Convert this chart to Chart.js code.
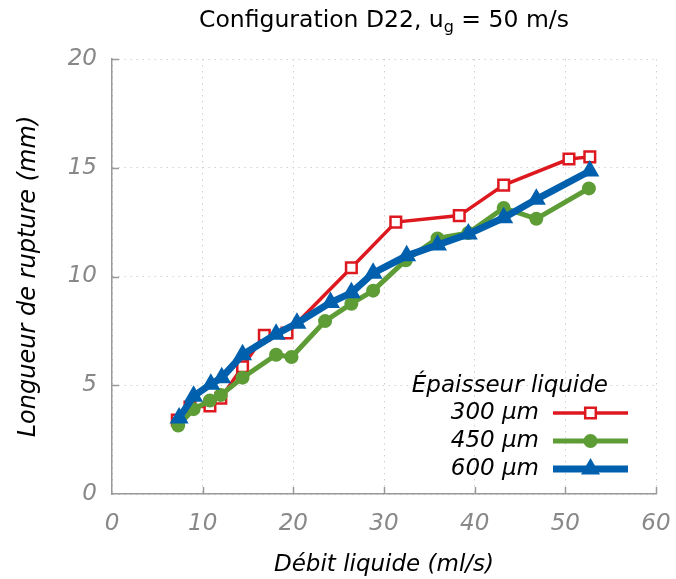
<!DOCTYPE html>
<html>
<head>
<meta charset="utf-8">
<script src="https://cdn.jsdelivr.net/npm/chart.js@4/dist/chart.umd.min.js"></script>
<style>
html,body{margin:0;padding:0;background:#fff;}
#wrap{width:676px;height:579px;position:relative;}
</style>
</head>
<body>
<div id="wrap"><canvas id="c" width="676" height="579"></canvas></div>
<script>
// ---- Data ----
const seriesNames = ["300 µm", "450 µm", "600 µm"];
const legendTitle = "Épaisseur liquide";
const chartTitleMain = "Configuration D22, u";
const chartTitleSub = "g";
const chartTitleEnd = " = 50 m/s";
const xAxisTitle = "Débit liquide (ml/s)";
const yAxisTitle = "Longueur de rupture (mm)";
const xTicks = [0, 10, 20, 30, 40, 50, 60];
const yTicks = [0, 5, 10, 15, 20];

const x300 = [7.2, 8.6, 10.8, 12.0, 14.4, 16.8, 19.3, 26.4, 31.3, 38.3, 43.2, 50.4, 52.7];
const y300 = [3.4, 4.0, 4.05, 4.4, 5.85, 7.3, 7.4, 10.4, 12.5, 12.8, 14.2, 15.4, 15.5];

const x450 = [7.3, 9.0, 10.8, 12.0, 14.4, 18.1, 19.8, 23.5, 26.4, 28.8, 32.4, 35.9, 39.3, 43.2, 46.8, 52.6];
const y450 = [3.15, 3.9, 4.3, 4.55, 5.35, 6.4, 6.3, 7.95, 8.75, 9.35, 10.75, 11.75, 12.0, 13.15, 12.65, 14.05];

const x600 = [7.4, 9.0, 10.9, 12.1, 14.4, 18.1, 20.4, 24.1, 26.4, 28.8, 32.5, 35.9, 39.3, 43.2, 46.8, 52.7];
const y600 = [3.5, 4.5, 5.05, 5.35, 6.4, 7.35, 7.85, 8.8, 9.25, 10.15, 10.95, 11.45, 11.95, 12.7, 13.55, 14.85];

const colors = ["#dd181f", "#5e9c36", "#0060ad"];

function pts(xs, ys){ return xs.map((x,i)=>({x:x, y:ys[i]})); }

const FONT = "'DejaVu Sans', sans-serif";
const FS = 23;

const datasets = [
  { label: seriesNames[0], data: pts(x300,y300), borderColor: colors[0], backgroundColor: "#ffffff",
    borderWidth: 3.5, pointStyle: 'rect', pointRadius: 7.5, pointBorderWidth: 2.5, pointBorderColor: colors[0],
    pointBackgroundColor: "#ffffff", order: 3 },
  { label: seriesNames[1], data: pts(x450,y450), borderColor: colors[1], backgroundColor: colors[1],
    borderWidth: 5, pointStyle: 'circle', pointRadius: 7, pointBorderWidth: 0,
    pointBackgroundColor: colors[1], order: 2 },
  { label: seriesNames[2], data: pts(x600,y600), borderColor: colors[2], backgroundColor: colors[2],
    borderWidth: 7, pointStyle: 'triangle', pointRadius: 11, pointBorderWidth: 0,
    pointBackgroundColor: colors[2], order: 1 }
];

const decor = {
  id: 'decor',
  afterDraw(chart){
    const ctx = chart.ctx, ca = chart.chartArea;
    const xs = chart.scales.x, ys = chart.scales.y;
    ctx.save();
    // inward tick marks
    ctx.strokeStyle = "#999";
    ctx.lineWidth = 1.5;
    xTicks.forEach(v=>{
      if (v === xTicks[0]) return;
      const px = Math.round(xs.getPixelForValue(v)) + 0.5;
      ctx.beginPath(); ctx.moveTo(px, ca.bottom); ctx.lineTo(px, ca.bottom - 7); ctx.stroke();
    });
    yTicks.forEach(v=>{
      if (v === yTicks[0]) return;
      const py = Math.round(ys.getPixelForValue(v)) + 0.5;
      ctx.beginPath(); ctx.moveTo(ca.left, py); ctx.lineTo(ca.left + 7, py); ctx.stroke();
    });
    // title with subscript
    const mid = (ca.left + ca.right) / 2;
    ctx.fillStyle = "#000";
    ctx.textBaseline = 'alphabetic';
    ctx.textAlign = 'left';
    const fMain = "23.5px " + FONT, fSub = "16px " + FONT;
    ctx.font = fMain;
    const w1 = ctx.measureText(chartTitleMain).width;
    const w3 = ctx.measureText(chartTitleEnd).width;
    ctx.font = fSub;
    const w2 = ctx.measureText(chartTitleSub).width;
    let tx = mid - (w1 + w2 + w3) / 2;
    const ty = 27;
    ctx.font = fMain; ctx.fillText(chartTitleMain, tx, ty); tx += w1;
    ctx.font = fSub; ctx.fillText(chartTitleSub, tx, ty + 5); tx += w2;
    ctx.font = fMain; ctx.fillText(chartTitleEnd, tx, ty);
    // legend
    ctx.font = "italic " + FS + "px " + FONT;
    ctx.textBaseline = 'middle';
    ctx.textAlign = 'right';
    ctx.fillText(legendTitle, ca.right - 48, ca.bottom - 108);
    const textRight = ca.right - 117;
    const lx1 = ca.right - 103, lx2 = ca.right - 28;
    chart.data.datasets.forEach((ds, i)=>{
      const yy = ca.bottom - 81 + i * 28;
      ctx.fillStyle = "#000";
      ctx.textAlign = 'right';
      ctx.fillText(ds.label, textRight, yy);
      ctx.strokeStyle = ds.borderColor;
      ctx.lineWidth = ds.borderWidth;
      ctx.beginPath(); ctx.moveTo(lx1, yy); ctx.lineTo(lx2, yy); ctx.stroke();
      ctx.fillStyle = ds.pointBackgroundColor;
      ctx.strokeStyle = ds.pointBorderColor || ds.borderColor;
      ctx.lineWidth = ds.pointBorderWidth;
      ctx.beginPath();
      const cx = (lx1 + lx2) / 2;
      if (ds.pointStyle === 'rect') {
        const s = Math.SQRT1_2 * ds.pointRadius;
        ctx.rect(cx - s, yy - s, 2*s, 2*s); ctx.fill(); ctx.stroke();
      } else if (ds.pointStyle === 'circle') {
        ctx.arc(cx, yy, ds.pointRadius, 0, Math.PI*2); ctx.fill();
      } else {
        const r = ds.pointRadius;
        ctx.moveTo(cx, yy - r);
        ctx.lineTo(cx + r*Math.sin(2*Math.PI/3), yy - r*Math.cos(2*Math.PI/3));
        ctx.lineTo(cx + r*Math.sin(4*Math.PI/3), yy - r*Math.cos(4*Math.PI/3));
        ctx.closePath(); ctx.fill();
      }
    });
    ctx.restore();
  }
};

new Chart(document.getElementById('c'), {
  type: 'line',
  data: { datasets: datasets },
  plugins: [decor],
  options: {
    responsive: false,
    animation: false,
    devicePixelRatio: 1,
    layout: { padding: { top: 59, right: 20, left: 0, bottom: 0 } },
    plugins: { legend: { display: false }, tooltip: { enabled: false }, title: { display: false } },
    elements: { line: { tension: 0 } },
    scales: {
      x: {
        type: 'linear', min: 0, max: 60,
        afterBuildTicks(s){ s.ticks = xTicks.map(v=>({value:v})); },
        afterFit(s){ s.height = 85; s.paddingLeft = 0; s.paddingRight = 0; },
        grid: { color: "#d0d0d0", lineWidth: 1, drawTicks: false },
        border: { display: true, color: "#999", width: 1.5, dash: [1.5, 4.5] },
        ticks: { color: "#888", padding: 16, font: { family: FONT, size: FS, style: 'italic' } },
        title: { display: true, text: xAxisTitle, color: "#000", padding: { top: 10, bottom: 0 },
                 font: { family: FONT, size: FS, style: 'italic' } }
      },
      y: {
        type: 'linear', min: 0, max: 20,
        afterBuildTicks(s){ s.ticks = yTicks.map(v=>({value:v})); },
        afterFit(s){ s.width = 112; s.paddingTop = 0; s.paddingBottom = 0; },
        grid: { color: "#d0d0d0", lineWidth: 1, drawTicks: false },
        border: { display: true, color: "#999", width: 1.5, dash: [1.5, 4.5] },
        ticks: { color: "#888", padding: 15, font: { family: FONT, size: FS, style: 'italic' } },
        title: { display: true, text: yAxisTitle, color: "#000", padding: { top: 14, bottom: 0 },
                 font: { family: FONT, size: 24, style: 'italic' } }
      }
    }
  }
});
</script>
</body>
</html>
